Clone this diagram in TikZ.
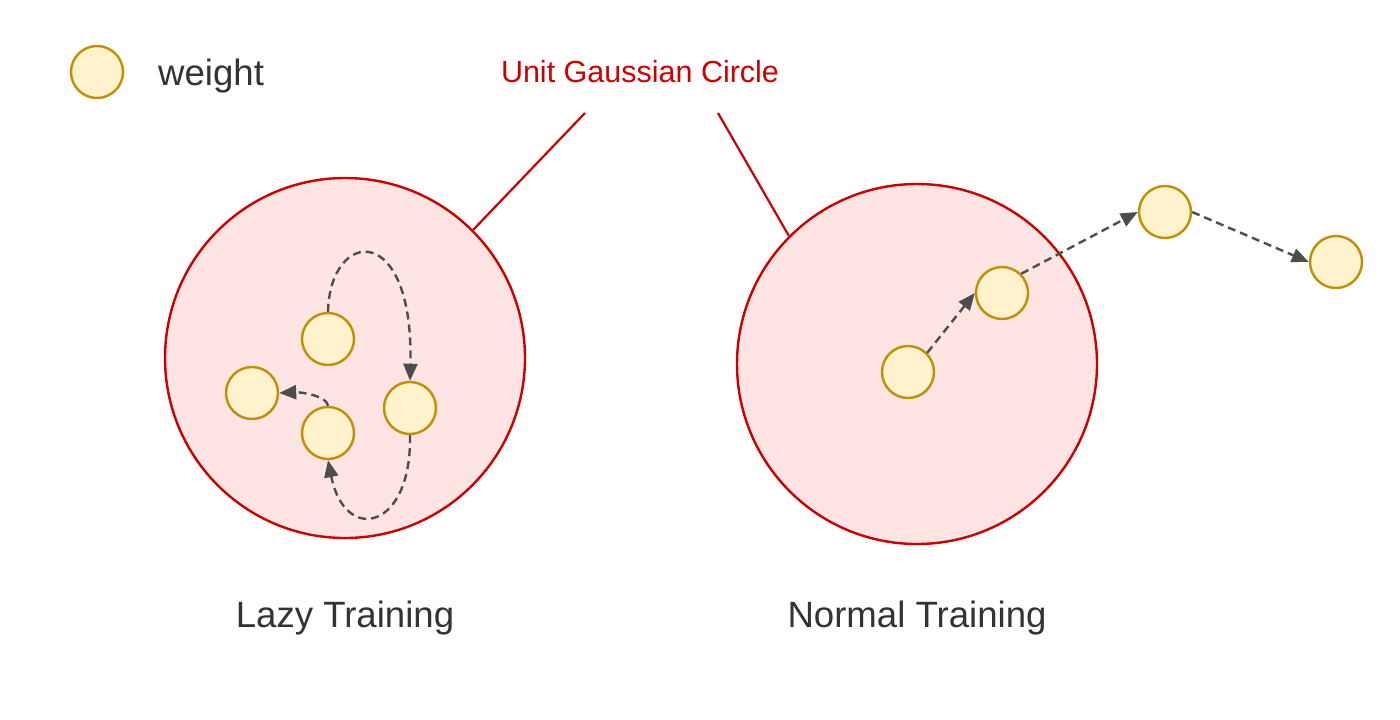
\documentclass[tikz,border=0pt]{standalone}
\usepackage{fontspec}
\setmainfont{Liberation Sans}
\usetikzlibrary{arrows.meta}
\definecolor{txtgray}{HTML}{333333}
\definecolor{gred}{HTML}{CC0000}
\definecolor{gpink}{HTML}{FFE4E4}
\definecolor{wfill}{HTML}{FFF2CC}
\definecolor{wdraw}{HTML}{BF9000}
\definecolor{arrgray}{HTML}{4D4D4D}
\tikzset{
  weightnode/.style={circle,draw=wdraw,fill=wfill,line width=2.4pt,minimum size=52pt,inner sep=0pt},
  gausscircle/.style={circle,draw=gred,fill=gpink,line width=2.4pt,minimum size=360pt,inner sep=0pt},
  moveline/.style={draw=arrgray,line width=2.4pt,dash pattern=on 8pt off 5pt,-{Triangle[length=17pt,width=14pt]}},
  redline/.style={draw=gred,line width=2.2pt},
  bigtext/.style={text=txtgray,font=\fontsize{36.6}{44}\selectfont,inner sep=0pt},
  redtext/.style={text=gred,font=\fontsize{30.5}{36}\selectfont,inner sep=0pt}
}
\begin{document}
\begin{tikzpicture}[x=1pt,y=-1pt]
\useasboundingbox[fill=white] (0,0) rectangle (1400,720);
% legend
\node[weightnode] (leg) at (97,72) {};
\node[bigtext,anchor=base west] (legtxt) at (158,85) {weight};
\node[redtext,anchor=base] (ugc) at (640,82) {Unit Gaussian Circle};
% big circles
\node[gausscircle] (L) at (345,358) {};
\node[gausscircle] (R) at (917,364) {};
\coordinate (lstart) at (585,113);
\coordinate (rstart) at (718,113);
\draw[redline] (lstart) -- (L.45);
\draw[redline] (rstart) -- (R.135);
% lazy weights
\node[weightnode] (A) at (328,339) {};
\node[weightnode] (B) at (252,393) {};
\node[weightnode] (C) at (328,433) {};
\node[weightnode] (D) at (410,408) {};
\draw[moveline] (A.north) .. controls (330,228) and (414,220) .. (D.north);
\draw[moveline] (D.south) .. controls (412,530) and (345,545) .. (C.south);
\draw[moveline] (C.north) .. controls (327,396) and (302,392) .. (B.east);
% normal weights
\node[weightnode] (E) at (908,372) {};
\node[weightnode] (F) at (1002,293) {};
\node[weightnode] (G) at (1165,212) {};
\node[weightnode] (H) at (1336,262) {};
\draw[moveline] (E.45) -- (F.west);
\draw[moveline] (F.45) -- (G.west);
\draw[moveline] (G.east) -- (H.west);
% labels
\node[bigtext,anchor=base] (lazy) at (345,627) {Lazy Training};
\node[bigtext,anchor=base] (normal) at (917,627) {Normal Training};
\end{tikzpicture}
\end{document}
